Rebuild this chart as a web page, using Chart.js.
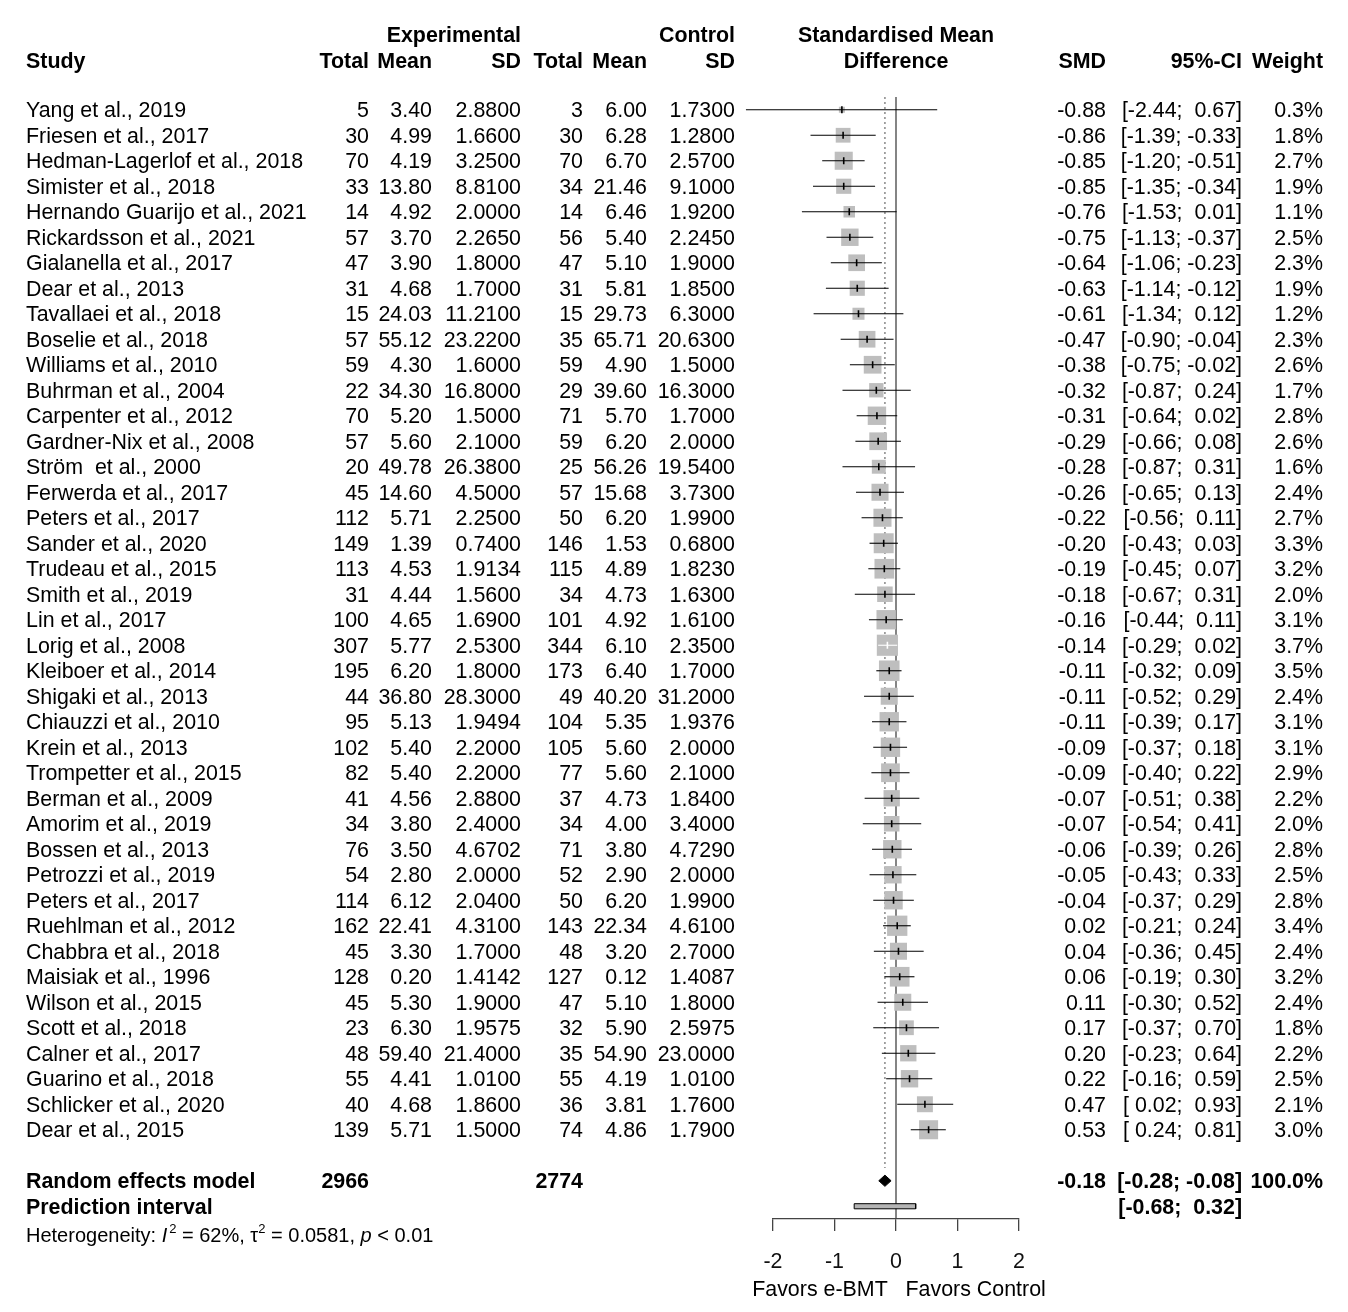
<!DOCTYPE html>
<html>
<head>
<meta charset="utf-8">
<script src="https://cdn.jsdelivr.net/npm/chart.js@4.4.0/dist/chart.umd.min.js"></script>
<style>
  html, body { margin: 0; padding: 0; background: #fff; }
  #forest { display: block; }
</style>
</head>
<body>
<canvas id="forest" width="1348" height="1312"></canvas>
<script>
// Study data
const studies = ['Yang et al., 2019', 'Friesen et al., 2017', 'Hedman-Lagerlof et al., 2018', 'Simister et al., 2018',
    'Hernando Guarijo et al., 2021', 'Rickardsson et al., 2021', 'Gialanella et al., 2017', 'Dear et al., 2013',
    'Tavallaei et al., 2018', 'Boselie et al., 2018', 'Williams et al., 2010', 'Buhrman et al., 2004',
    'Carpenter et al., 2012', 'Gardner-Nix et al., 2008', 'Ström  et al., 2000', 'Ferwerda et al., 2017',
    'Peters et al., 2017', 'Sander et al., 2020', 'Trudeau et al., 2015', 'Smith et al., 2019', 'Lin et al., 2017',
    'Lorig et al., 2008', 'Kleiboer et al., 2014', 'Shigaki et al., 2013', 'Chiauzzi et al., 2010', 'Krein et al., 2013',
    'Trompetter et al., 2015', 'Berman et al., 2009', 'Amorim et al., 2019', 'Bossen et al., 2013', 'Petrozzi et al., 2019',
    'Peters et al., 2017', 'Ruehlman et al., 2012', 'Chabbra et al., 2018', 'Maisiak et al., 1996', 'Wilson et al., 2015',
    'Scott et al., 2018', 'Calner et al., 2017', 'Guarino et al., 2018', 'Schlicker et al., 2020', 'Dear et al., 2015'];
const expTotal = [5, 30, 70, 33, 14, 57, 47, 31, 15, 57, 59, 22, 70, 57, 20, 45, 112, 149, 113, 31, 100, 307, 195, 44, 95,
    102, 82, 41, 34, 76, 54, 114, 162, 45, 128, 45, 23, 48, 55, 40, 139];
const expMean = [3.40, 4.99, 4.19, 13.80, 4.92, 3.70, 3.90, 4.68, 24.03, 55.12, 4.30, 34.30, 5.20, 5.60, 49.78, 14.60, 5.71,
    1.39, 4.53, 4.44, 4.65, 5.77, 6.20, 36.80, 5.13, 5.40, 5.40, 4.56, 3.80, 3.50, 2.80, 6.12, 22.41, 3.30, 0.20, 5.30, 6.30,
    59.40, 4.41, 4.68, 5.71];
const expSD = [2.8800, 1.6600, 3.2500, 8.8100, 2.0000, 2.2650, 1.8000, 1.7000, 11.2100, 23.2200, 1.6000, 16.8000, 1.5000,
    2.1000, 26.3800, 4.5000, 2.2500, 0.7400, 1.9134, 1.5600, 1.6900, 2.5300, 1.8000, 28.3000, 1.9494, 2.2000, 2.2000, 2.8800,
    2.4000, 4.6702, 2.0000, 2.0400, 4.3100, 1.7000, 1.4142, 1.9000, 1.9575, 21.4000, 1.0100, 1.8600, 1.5000];
const ctlTotal = [3, 30, 70, 34, 14, 56, 47, 31, 15, 35, 59, 29, 71, 59, 25, 57, 50, 146, 115, 34, 101, 344, 173, 49, 104,
    105, 77, 37, 34, 71, 52, 50, 143, 48, 127, 47, 32, 35, 55, 36, 74];
const ctlMean = [6.00, 6.28, 6.70, 21.46, 6.46, 5.40, 5.10, 5.81, 29.73, 65.71, 4.90, 39.60, 5.70, 6.20, 56.26, 15.68, 6.20,
    1.53, 4.89, 4.73, 4.92, 6.10, 6.40, 40.20, 5.35, 5.60, 5.60, 4.73, 4.00, 3.80, 2.90, 6.20, 22.34, 3.20, 0.12, 5.10, 5.90,
    54.90, 4.19, 3.81, 4.86];
const ctlSD = [1.7300, 1.2800, 2.5700, 9.1000, 1.9200, 2.2450, 1.9000, 1.8500, 6.3000, 20.6300, 1.5000, 16.3000, 1.7000,
    2.0000, 19.5400, 3.7300, 1.9900, 0.6800, 1.8230, 1.6300, 1.6100, 2.3500, 1.7000, 31.2000, 1.9376, 2.0000, 2.1000, 1.8400,
    3.4000, 4.7290, 2.0000, 1.9900, 4.6100, 2.7000, 1.4087, 1.8000, 2.5975, 23.0000, 1.0100, 1.7600, 1.7900];
const smd = [-0.88, -0.86, -0.85, -0.85, -0.76, -0.75, -0.64, -0.63, -0.61, -0.47, -0.38, -0.32, -0.31, -0.29, -0.28, -0.26,
    -0.22, -0.20, -0.19, -0.18, -0.16, -0.14, -0.11, -0.11, -0.11, -0.09, -0.09, -0.07, -0.07, -0.06, -0.05, -0.04, 0.02,
    0.04, 0.06, 0.11, 0.17, 0.20, 0.22, 0.47, 0.53];
const ciLow = [-2.44, -1.39, -1.20, -1.35, -1.53, -1.13, -1.06, -1.14, -1.34, -0.90, -0.75, -0.87, -0.64, -0.66, -0.87, -0.65,
    -0.56, -0.43, -0.45, -0.67, -0.44, -0.29, -0.32, -0.52, -0.39, -0.37, -0.40, -0.51, -0.54, -0.39, -0.43, -0.37, -0.21,
    -0.36, -0.19, -0.30, -0.37, -0.23, -0.16, 0.02, 0.24];
const ciHigh = [0.67, -0.33, -0.51, -0.34, 0.01, -0.37, -0.23, -0.12, 0.12, -0.04, -0.02, 0.24, 0.02, 0.08, 0.31, 0.13, 0.11,
    0.03, 0.07, 0.31, 0.11, 0.02, 0.09, 0.29, 0.17, 0.18, 0.22, 0.38, 0.41, 0.26, 0.33, 0.29, 0.24, 0.45, 0.30, 0.52, 0.70,
    0.64, 0.59, 0.93, 0.81];
const weight = [0.3, 1.8, 2.7, 1.9, 1.1, 2.5, 2.3, 1.9, 1.2, 2.3, 2.6, 1.7, 2.8, 2.6, 1.6, 2.4, 2.7, 3.3, 3.2, 2.0, 3.1, 3.7,
    3.5, 2.4, 3.1, 3.1, 2.9, 2.2, 2.0, 2.8, 2.5, 2.8, 3.4, 2.4, 3.2, 2.4, 1.8, 2.2, 2.5, 2.1, 3.0];

// Pooled results
const totals = [2966, 2774];
const pooled = [-0.18, -0.28, -0.08];     // estimate, lower, upper
const predInterval = [-0.68, 0.32];
const heterogeneity = ['62%', '0.0581', '< 0.01'];  // I2, tau2, p
const axisTicks = [-2, -1, 0, 1, 2];
const axisLabels = ['Favors e-BMT', 'Favors Control'];

const FONT = '"Liberation Sans", Arial, sans-serif';
const FS = 21.4;
const n = studies.length;
const rows = studies.map((s, i) => i + 1);
const pooledRow = n + 2;
const predRow = n + 3;

const f2 = v => v.toFixed(2);
const ciText = (lo, hi) => '[' + (lo < 0 ? '' : ' ') + f2(lo) + '; ' + (hi < 0 ? '' : ' ') + f2(hi) + ']';

// square side in px grows with sqrt(weight)
const squareSide = i => 11 * Math.sqrt(weight[i]);
// CI that fits inside its own square is drawn white, like meta does
const insideSquare = (chart, i) => {
    const xs = chart.scales.x;
    return xs.getPixelForValue(ciHigh[i]) - xs.getPixelForValue(ciLow[i]) <= squareSide(i);
};

// CI segments in one dataset, broken by empty points
const ciData = [];
rows.forEach((r, i) => {
    ciData.push({ x: ciLow[i], y: r }, { x: ciHigh[i], y: r }, { x: null, y: null });
});

const diamond = [
    { x: pooled[1], y: pooledRow }, { x: pooled[0], y: pooledRow - 0.22 },
    { x: pooled[2], y: pooledRow }, { x: pooled[0], y: pooledRow + 0.22 }, { x: pooled[1], y: pooledRow }
];
const predBox = [
    { x: predInterval[0], y: predRow - 0.1 }, { x: predInterval[1], y: predRow - 0.1 },
    { x: predInterval[1], y: predRow + 0.1 }, { x: predInterval[0], y: predRow + 0.1 }, { x: predInterval[0], y: predRow - 0.1 }
];

// text columns: right edge in px
const colStudy = 26;
const cols = { eTot: 369, eMean: 432, eSD: 521, cTot: 583, cMean: 647, cSD: 735, smd: 1106, ci: 1242, w: 1323 };

const tablePlugin = {
    id: 'forestTable',
    afterDraw(chart) {
        const ctx = chart.ctx;
        const ys = chart.scales.y;
        const xs = chart.scales.x;
        const dy = FS * 0.36;   // centre caps on the row
        const txt = (s, x, y, align, font) => {
            ctx.font = font;
            ctx.textAlign = align;
            ctx.fillText(s, x, y + dy);
        };
        const reg = FS + 'px ' + FONT;
        const bold = 'bold ' + FS + 'px ' + FONT;
        ctx.save();
        ctx.fillStyle = '#000';
        ctx.textBaseline = 'alphabetic';

        // header
        txt('Experimental', cols.eSD, 34, 'right', bold);
        txt('Control', cols.cSD, 34, 'right', bold);
        txt('Standardised Mean', xs.getPixelForValue(0), 34, 'center', bold);
        txt('Study', colStudy, 60, 'left', bold);
        txt('Total', cols.eTot, 60, 'right', bold);
        txt('Mean', cols.eMean, 60, 'right', bold);
        txt('SD', cols.eSD, 60, 'right', bold);
        txt('Total', cols.cTot, 60, 'right', bold);
        txt('Mean', cols.cMean, 60, 'right', bold);
        txt('SD', cols.cSD, 60, 'right', bold);
        txt('Difference', xs.getPixelForValue(0), 60, 'center', bold);
        txt('SMD', cols.smd, 60, 'right', bold);
        txt('95%-CI', cols.ci, 60, 'right', bold);
        txt('Weight', cols.w, 60, 'right', bold);

        // study rows
        studies.forEach((s, i) => {
            const py = ys.getPixelForValue(rows[i]);
            txt(s, colStudy, py, 'left', reg);
            txt(String(expTotal[i]), cols.eTot, py, 'right', reg);
            txt(f2(expMean[i]), cols.eMean, py, 'right', reg);
            txt(expSD[i].toFixed(4), cols.eSD, py, 'right', reg);
            txt(String(ctlTotal[i]), cols.cTot, py, 'right', reg);
            txt(f2(ctlMean[i]), cols.cMean, py, 'right', reg);
            txt(ctlSD[i].toFixed(4), cols.cSD, py, 'right', reg);
            txt(f2(smd[i]), cols.smd, py, 'right', reg);
            txt(ciText(ciLow[i], ciHigh[i]), cols.ci, py, 'right', reg);
            txt(weight[i].toFixed(1) + '%', cols.w, py, 'right', reg);
        });

        // pooled rows
        let py = ys.getPixelForValue(pooledRow);
        txt('Random effects model', colStudy, py, 'left', bold);
        txt(String(totals[0]), cols.eTot, py, 'right', bold);
        txt(String(totals[1]), cols.cTot, py, 'right', bold);
        txt(f2(pooled[0]), cols.smd, py, 'right', bold);
        txt(ciText(pooled[1], pooled[2]), cols.ci, py, 'right', bold);
        txt('100.0%', cols.w, py, 'right', bold);
        py = ys.getPixelForValue(predRow);
        txt('Prediction interval', colStudy, py, 'left', bold);
        txt(ciText(predInterval[0], predInterval[1]), cols.ci, py, 'right', bold);

        // axis labels under the tick numbers
        txt(axisLabels.join('   '), xs.getPixelForValue(0) + 3, 1288, 'center', reg);

        // heterogeneity line, pieced together for italics / superscripts
        const hy = 1235 + 20 * 0.36;
        const small = '20px ' + FONT, ital = 'italic 20px ' + FONT, sup = '13px ' + FONT;
        let x = colStudy;
        const piece = (s, font, off) => {
            ctx.font = font;
            ctx.textAlign = 'left';
            ctx.fillText(s, x, hy + (off || 0));
            x += ctx.measureText(s).width;
        };
        piece('Heterogeneity: ', small);
        piece('I', ital);
        x += 2;
        piece('2', sup, -9);
        piece(' = ' + heterogeneity[0] + ', ', small);
        piece('\u03c4', small);
        piece('2', sup, -9);
        piece(' = ' + heterogeneity[1] + ', ', small);
        piece('p', ital);
        piece(' ' + heterogeneity[2], small);
        ctx.restore();
    }
};

Chart.defaults.font.family = FONT;

new Chart(document.getElementById('forest'), {
    type: 'scatter',
    data: {
        datasets: [
            {   // line of no effect
                data: [{ x: 0, y: 0.5 }, { x: 0, y: 44.5 }],
                showLine: true, borderColor: '#444', borderWidth: 1.3, pointRadius: 0, order: 10
            },
            {   // pooled estimate, dotted
                data: [{ x: pooled[0], y: 0.5 }, { x: pooled[0], y: pooledRow - 0.5 }],
                showLine: true, borderColor: '#777', borderWidth: 1.3, borderDash: [2, 3], pointRadius: 0, order: 9
            },
            {   // weight squares
                data: rows.map((r, i) => ({ x: smd[i], y: r })),
                pointStyle: 'rect',
                pointRadius: weight.map((w, i) => squareSide(i) / Math.SQRT2),
                backgroundColor: '#bebebe', borderWidth: 0, order: 5, clip: false
            },
            {   // confidence intervals
                data: ciData, showLine: true, spanGaps: false,
                borderColor: '#000', borderWidth: 1.1, pointRadius: 0, order: 3, clip: false,
                segment: {
                    borderColor: c => insideSquare(c.chart, Math.floor(c.p0DataIndex / 3)) ? '#fff' : '#000'
                }
            },
            {   // point estimates
                data: rows.map((r, i) => ({ x: smd[i], y: r })),
                pointStyle: 'line', rotation: 90, pointRadius: 3.5,
                borderColor: c => insideSquare(c.chart, c.dataIndex) ? '#fff' : '#000',
                borderWidth: 1.6, order: 1, clip: false
            },
            {   // random effects diamond
                data: diamond, showLine: true, fill: 'shape',
                borderColor: '#000', backgroundColor: '#000', borderWidth: 1, pointRadius: 0, order: 2, clip: false
            },
            {   // prediction interval bar
                data: predBox, showLine: true, fill: 'shape',
                borderColor: '#000', backgroundColor: '#b4b4b4', borderWidth: 1, pointRadius: 0, order: 2, clip: false
            }
        ]
    },
    options: {
        responsive: false,
        animation: false,
        devicePixelRatio: 1,
        layout: { padding: { top: 97, left: 773, right: 329, bottom: 13 } },
        plugins: { legend: { display: false }, tooltip: { enabled: false } },
        events: [],
        scales: {
            x: {
                type: 'linear', min: -2, max: 2,
                afterBuildTicks: scale => { scale.ticks = axisTicks.map(v => ({ value: v })); },
                ticks: { color: '#111', font: { size: FS }, padding: 18 },
                grid: { drawOnChartArea: false, drawTicks: true, tickLength: 12, color: '#444', lineWidth: 1.3 },
                border: { color: '#444', width: 1.3 },
                afterFit: scale => { scale.height = 80; }
            },
            y: {
                type: 'linear', display: false, reverse: true, min: 0.5, max: 44.5
            }
        }
    },
    plugins: [tablePlugin]
});
</script>
</body>
</html>
